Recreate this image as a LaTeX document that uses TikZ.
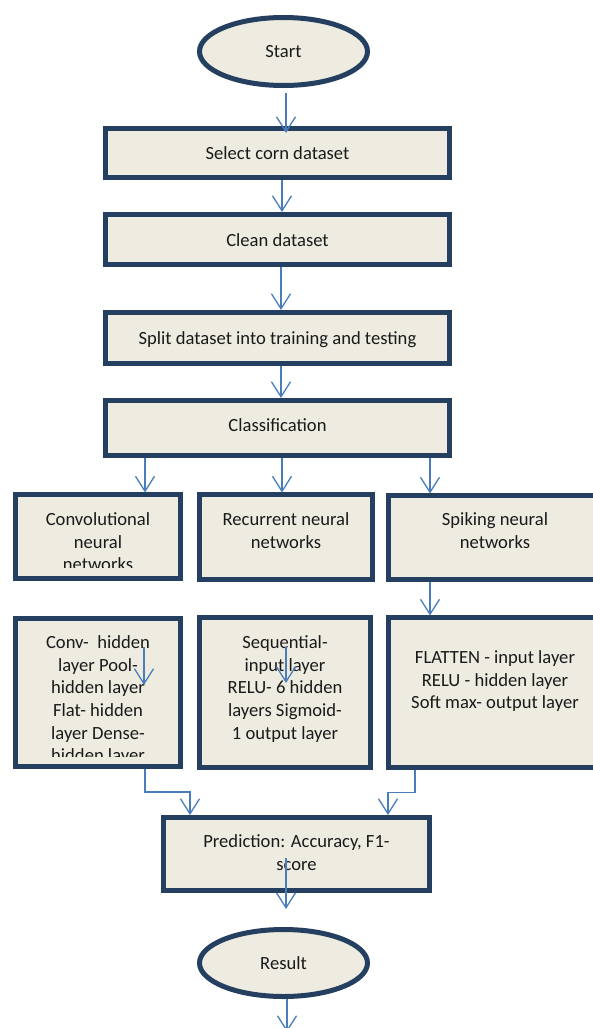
\documentclass[tikz,border=0pt]{standalone}
\usepackage{fontspec}
\setmainfont{Carlito}
\usetikzlibrary{arrows.meta,shapes.geometric}
\definecolor{boxfill}{HTML}{EEECE1}
\definecolor{boxline}{HTML}{243F60}
\definecolor{flowblue}{HTML}{4A7EBB}
\definecolor{ink}{HTML}{1A1A1A}
\begin{document}
\begin{tikzpicture}[x=1pt,y=-1pt,
  every node/.style={outer sep=0pt, text=ink, font=\fontsize{18.6}{22.6}\selectfont},
  stepbox/.style={draw=boxline, fill=boxfill, line width=5pt, inner sep=0pt,
    text height=13pt, text depth=0pt},
  term/.style={ellipse, draw=boxline, fill=boxfill, line width=5pt, inner sep=0pt,
    minimum width=168pt, minimum height=68pt},
  % multi-line texts are placed by the baseline of their last line
  txt/.style={anchor=base, align=center, inner sep=0pt},
  flow/.style={draw=flowblue, line width=1.3pt,
    -{Straight Barb[length=15pt,width=19pt,line width=1.3pt]}}
]
\clip (0,0) rectangle (593,1028);
\fill[white] (0,0) rectangle (593,1028);

% terminals and main chain
\node[term] (start) at (283.5,51.5) {Start};
\node[stepbox, minimum width=344pt, minimum height=49pt] (select) at (277.5,153) {Select corn dataset};
\node[stepbox, minimum width=344pt, minimum height=50pt] (clean) at (277.5,239.5) {Clean dataset};
\node[stepbox, minimum width=344pt, minimum height=51pt] (split) at (277.5,338) {Split dataset into training and testing};
\node[stepbox, minimum width=344pt, minimum height=55pt, text depth=7pt] (class) at (277.5,428) {Classification};

% the three network families
\node[stepbox, minimum width=165pt, minimum height=84pt] (cnn) at (98,536.5) {};
\node[stepbox, minimum width=173pt, minimum height=85pt] (rnn) at (286,537) {};
\node[stepbox, minimum width=213pt, minimum height=84pt] (snn) at (495,537.5) {};
\begin{scope}
  \clip (13,492) rectangle (183,567);
  \node[txt] (cnnT) at (98,570.8) {Convolutional\\neural\\networks};
\end{scope}
\node[txt] (rnnT) at (286,548.2) {Recurrent neural\\networks};
\node[txt] (snnT) at (495,548.2) {Spiking neural\\networks};

% layer descriptions
\node[stepbox, minimum width=165pt, minimum height=148pt] (cnnL) at (98,692.5) {};
\node[stepbox, minimum width=171pt, minimum height=150pt] (rnnL) at (285,692.5) {};
\node[stepbox, minimum width=213pt, minimum height=150pt] (snnL) at (495,692.5) {};
\begin{scope}
  \clip (13,616) rectangle (183,756);
  \node[txt] (cnnLT) at (98,761.6) {Conv-~ hidden\\layer Pool-\\hidden layer\\Flat- hidden\\layer Dense-\\hidden layer};
\end{scope}
\node[txt] (rnnLT) at (285,739) {Sequential-\\input layer\\RELU- 6 hidden\\layers Sigmoid-\\1 output layer};
\node[txt] (snnLT) at (495,708.8) {FLATTEN - input layer\\RELU - hidden layer\\Soft max- output layer};

% evaluation and result
\node[stepbox, minimum width=266pt, minimum height=73pt] (pred) at (296.5,854) {};
\node[txt] (predT) at (296.5,870.2) {Prediction: Accuracy, F1-\\score};
\node[term, minimum height=67pt] (result) at (283.5,963) {Result};

% connectors
\draw[flow] ([shift={(2.5,7.5)}]start.south) -- ([shift={(8.5,4.5)}]select.north);
\draw[flow] ([shift={(4.5,2.5)}]select.south) -- ([shift={(4.5,-2.5)}]clean.north);
\draw[flow] ([shift={(3.5,2.5)}]clean.south) -- ([shift={(3.5,-2.5)}]split.north);
\draw[flow] ([shift={(3.5,2.5)}]split.south) -- ([shift={(3.5,-2.5)}]class.north);
\draw[flow] ([shift={(-132.5,2.5)}]class.south) -- ([shift={(47,-2)}]cnn.north);
\draw[flow] ([shift={(4.5,2.5)}]class.south) -- ([shift={(-4,-2)}]rnn.north);
\draw[flow] ([shift={(152.5,2.5)}]class.south) -- ([shift={(-65,-2)}]snn.north);
\draw[flow] ([shift={(-65,2.5)}]snn.south) -- ([shift={(-65,-2)}]snnL.north);
\draw[flow] ([shift={(46,28.5)}]cnnL.north) -- ([shift={(46,66.5)}]cnnL.north);
\draw[flow] ([shift={(1,29.5)}]rnnL.north) -- ([shift={(1,65.5)}]rnnL.north);
\draw[flow] ([shift={(47,2.5)}]cnnL.south) -- ++(0,23) -| ([shift={(-106.5,-2.5)}]pred.north);
\draw[flow] ([shift={(-80,2.5)}]snnL.south) -- ++(0,22.5) -| ([shift={(91.5,-2.5)}]pred.north);
\draw[flow] ([shift={(-10.5,4)}]pred.center) -- ([shift={(-10.5,18.5)}]pred.south);
\draw[flow] ([shift={(3.5,2.5)}]result.south) -- ++(0,33);
\end{tikzpicture}
\end{document}
